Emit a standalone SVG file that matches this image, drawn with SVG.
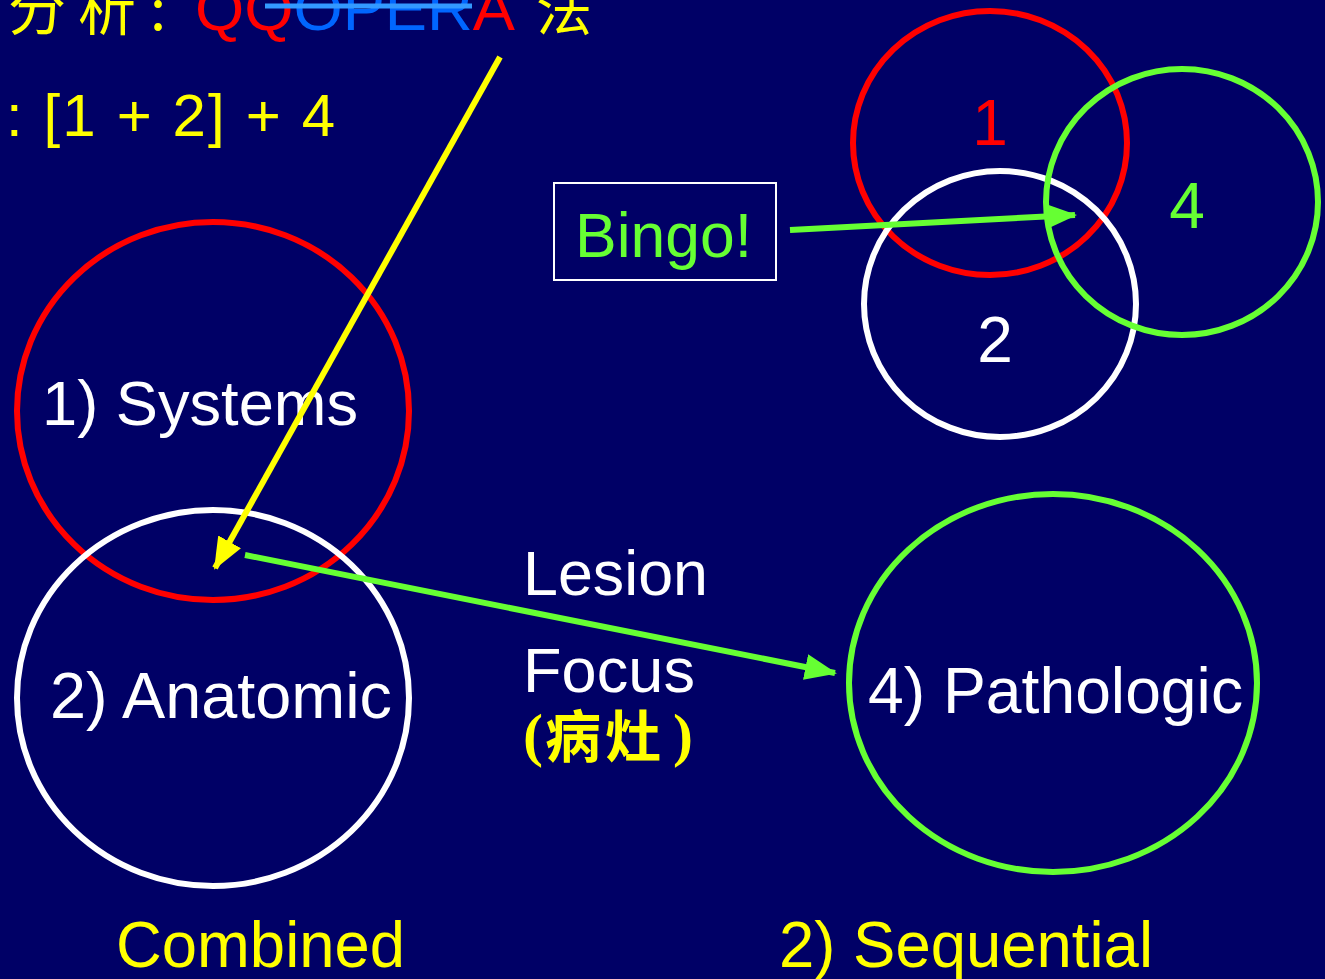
<svg xmlns="http://www.w3.org/2000/svg" width="1325" height="979" viewBox="0 0 1325 979">
<style>
.t{font-family:"Liberation Sans",Arial,sans-serif}
.cj{font-family:"Noto Sans CJK SC","Liberation Serif",serif}
.sf{font-family:"Liberation Serif","Times New Roman",serif}
.w{fill:#FFFFFF}.y{fill:#FFFF00}.g{fill:#66FF33}.r{fill:#FF0000}
.c{fill:none;stroke-width:6}
</style>
<defs>
<marker id="ay" markerUnits="userSpaceOnUse" markerWidth="34" markerHeight="26" refX="30" refY="13" orient="auto"><path d="M0,0 L32,13 L0,26 z" fill="#FFFF00"/></marker>
<marker id="ag" markerUnits="userSpaceOnUse" markerWidth="34" markerHeight="26" refX="30" refY="13" orient="auto"><path d="M0,0 L32,13 L0,26 z" fill="#66FF33"/></marker>
</defs>
<rect width="1325" height="979" fill="#000066"/>
<g id="title">
<text x="8" y="30" font-size="58" class="cj y">分</text>
<text x="78" y="30" font-size="58" class="cj y">析</text>
<text x="150" y="30" font-size="58" class="cj y">:</text>
<text x="195" y="30" font-size="62" class="t" textLength="320" lengthAdjust="spacingAndGlyphs"><tspan class="r">QQ</tspan><tspan fill="#0066FF">OPER</tspan><tspan class="r">A</tspan></text>
<line x1="265" y1="6" x2="472" y2="6" stroke="#3399FF" stroke-width="5"/>
<text x="536" y="30" font-size="56" class="cj y">法</text>
<text x="6" y="136" font-size="60" class="t y" textLength="329" lengthAdjust="spacing">: [1 + 2] + 4</text>
</g>
<g id="systems">
<ellipse cx="213" cy="411" rx="196" ry="189" class="c" stroke="#FF0000"/>
<text x="42" y="425" font-size="63" class="t w" textLength="316" lengthAdjust="spacingAndGlyphs">1) Systems</text>
</g>
<g id="anatomic">
<ellipse cx="213" cy="698" rx="196" ry="188" class="c" stroke="#FFFFFF"/>
<text x="50" y="718" font-size="64" class="t w" textLength="342" lengthAdjust="spacingAndGlyphs">2) Anatomic</text>
</g>
<g id="pathologic">
<ellipse cx="1053" cy="683" rx="204" ry="189" class="c" stroke="#66FF33"/>
<text x="868" y="713" font-size="64" class="t w" textLength="375" lengthAdjust="spacingAndGlyphs">4) Pathologic</text>
</g>
<g id="c1">
<ellipse cx="990" cy="143" rx="137" ry="132" class="c" stroke="#FF0000"/>
<text x="990" y="145" font-size="64" text-anchor="middle" class="t r">1</text>
</g>
<g id="c2">
<ellipse cx="1000" cy="304" rx="136" ry="133" class="c" stroke="#FFFFFF"/>
<text x="995" y="362" font-size="64" text-anchor="middle" class="t w">2</text>
</g>
<g id="c4">
<ellipse cx="1182" cy="202" rx="136" ry="133" class="c" stroke="#66FF33"/>
<text x="1187" y="228" font-size="64" text-anchor="middle" class="t g">4</text>
</g>
<g id="bingo">
<rect x="554" y="183" width="222" height="97" fill="none" stroke="#FFFFFF" stroke-width="2"/>
<text x="575" y="257" font-size="63" class="t g" textLength="177" lengthAdjust="spacingAndGlyphs">Bingo!</text>
</g>
<g id="lesion">
<text x="523" y="595" font-size="63" class="t w" textLength="185" lengthAdjust="spacingAndGlyphs">Lesion</text>
<text x="523" y="692" font-size="63" class="t w" textLength="172" lengthAdjust="spacing">Focus</text>
<text x="523" y="755" font-size="60" class="sf y" font-weight="bold">(</text>
<text x="545" y="757" font-size="56" class="cj y" font-weight="bold" letter-spacing="4">病灶</text>
<text x="673" y="755" font-size="60" class="sf y" font-weight="bold">)</text>
</g>
<g id="labels">
<text x="116" y="967" font-size="64" class="t y" textLength="289" lengthAdjust="spacingAndGlyphs">Combined</text>
<text x="779" y="967" font-size="64" class="t y" textLength="374" lengthAdjust="spacingAndGlyphs">2) Sequential</text>
</g>
<g id="connectors" stroke-width="6" fill="none">
<line x1="500" y1="57" x2="215" y2="568" stroke="#FFFF00" marker-end="url(#ay)"/>
<line x1="245" y1="555" x2="835" y2="673" stroke="#66FF33" marker-end="url(#ag)"/>
<line x1="790" y1="230" x2="1075" y2="215" stroke="#66FF33" marker-end="url(#ag)"/>
</g>
</svg>
